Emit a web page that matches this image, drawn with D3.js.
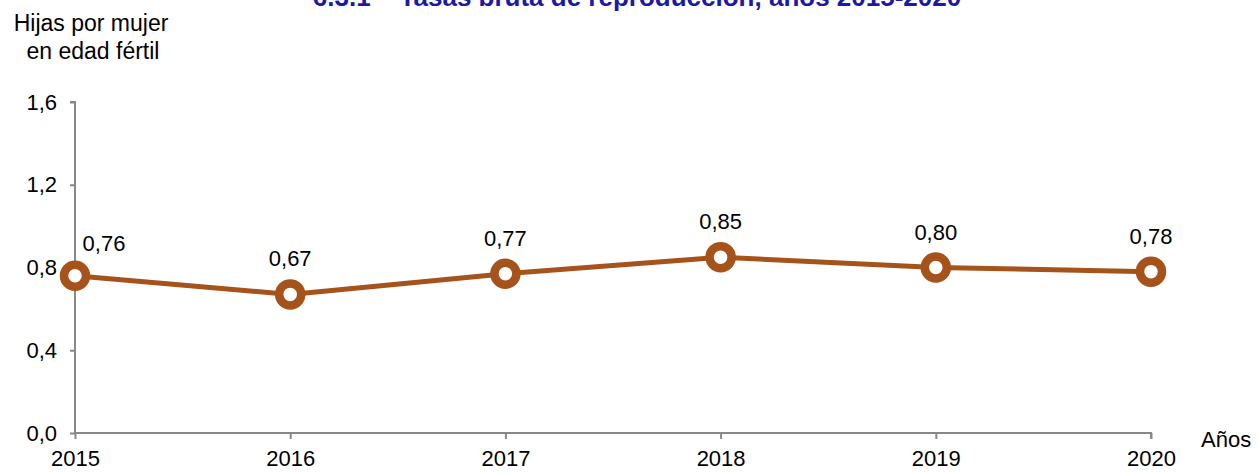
<!DOCTYPE html>
<html lang="es">
<head>
<meta charset="UTF-8">
<title>Tasas bruta de reproducción</title>
<script src="https://d3js.org/d3.v7.min.js"></script>
<style>
  body { margin: 0; background: #fff; }
  text { font-family: "Liberation Sans", Arial, sans-serif; }
</style>
</head>
<body>
<svg width="1259" height="473"></svg>
<script>
const years = [2015, 2016, 2017, 2018, 2019, 2020];
const rates = [0.76, 0.67, 0.77, 0.85, 0.80, 0.78];
const yTicks = [0, 0.4, 0.8, 1.2, 1.6];

const svg = d3.select("svg");
const x = d3.scalePoint().domain(years).range([75, 1151]);
const y = d3.scaleLinear().domain([0, 1.6]).range([433, 102]);
const fmt = v => d3.format(".2f")(v).replace(".", ",");
const fmt1 = v => d3.format(".1f")(v).replace(".", ",");
const fs = "22px";

// titulo (recortado arriba, como en el original)
svg.append("text")
    .attr("x", 637).attr("y", 6)
    .attr("text-anchor", "middle")
    .attr("font-size", "26px").attr("font-weight", "bold")
    .attr("fill", "#1a1aa6")
    .text("6.3.1 – Tasas bruta de reproducción, años 2015-2020");

// ejes
const yAxis = svg.append("g").attr("transform", "translate(75,0)")
    .call(d3.axisLeft(y).tickValues(yTicks).tickFormat(fmt1).tickSize(5).tickPadding(13));
const xAxis = svg.append("g").attr("transform", "translate(0,433)")
    .call(d3.axisBottom(x).tickSize(6).tickPadding(11));
[yAxis, xAxis].forEach(g => {
    g.attr("font-size", null).attr("font-family", null);
    g.select(".domain").attr("stroke", "#888").attr("stroke-width", 2);
    g.selectAll(".tick line").attr("stroke", "#888").attr("stroke-width", 2);
    g.selectAll(".tick text").attr("font-size", fs).attr("fill", "#000");
});
yAxis.select(".domain").attr("d", "M-5," + y(1.6) + "H0V" + y(0));
xAxis.select(".domain").attr("d", "M" + x(2015) + ",0H" + x(2020) + "V6");

// rotulos de ejes
svg.append("text").attr("x", 91).attr("y", 31).attr("text-anchor", "middle")
    .attr("font-size", "23px").text("Hijas por mujer");
svg.append("text").attr("x", 93).attr("y", 59).attr("text-anchor", "middle")
    .attr("font-size", "23px").text("en edad fértil");
svg.append("text").attr("x", 1201).attr("y", 447)
    .attr("font-size", fs).text("Años");

// linea
const data = years.map((d, i) => ({ year: d, value: rates[i] }));
svg.append("path").datum(data)
    .attr("fill", "none").attr("stroke", "#a5531b").attr("stroke-width", 5)
    .attr("d", d3.line().x(d => x(d.year)).y(d => y(d.value)));

svg.selectAll("circle.pt").data(data).enter().append("circle")
    .attr("class", "pt")
    .attr("cx", d => x(d.year)).attr("cy", d => y(d.value))
    .attr("r", 11).attr("fill", "#fff")
    .attr("stroke", "#a5531b").attr("stroke-width", 8.5);

svg.selectAll("text.lbl").data(data).enter().append("text")
    .attr("class", "lbl")
    .attr("x", (d, i) => i === 0 ? x(d.year) + 29 : x(d.year))
    .attr("y", (d, i) => y(d.value) - (i === 0 ? 25 : 28))
    .attr("text-anchor", "middle")
    .attr("font-size", fs)
    .text(d => fmt(d.value));
</script>
</body>
</html>
